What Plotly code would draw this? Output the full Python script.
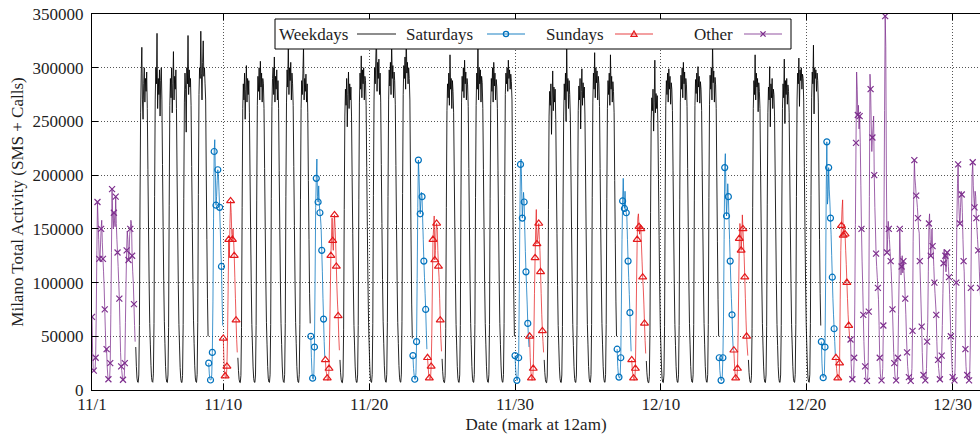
import pandas as pd
import plotly.graph_objects as go

# ---------------- data (hourly totals) ----------------
start_date = "2013-11-01"
tick_dates = ["2013-11-01", "2013-11-10", "2013-11-20", "2013-11-30",
              "2013-12-10", "2013-12-20", "2013-12-30"]
tick_labels = ["11/1", "11/10", "11/20", "11/30", "12/10", "12/20", "12/30"]
y_ticks = [0, 50000, 100000, 150000, 200000, 250000, 300000, 350000]

# W = weekday, S = Saturday, U = Sunday, O = other (holiday)
day_types = (["O", "O", "O"]
             + ["W", "W", "W", "W", "W", "S", "U"] * 7
             + ["O"] * 9)

nov01_03 = [
    [68000, 35000, 20000, 18000, 17000, 19000, 30000, 70000, 130000, 175000, 158000, 140000, 122000, 120000, 135000, 150000, 158000, 137000, 122000, 110000, 95000, 75000, 55000, 35000],
    [38000, 22000, 13000, 10000, 10000, 11000, 25000, 70000, 128000, 187000, 160000, 150000, 165000, 158000, 152000, 180000, 155000, 140000, 128000, 115000, 100000, 85000, 60000, 35000],
    [22000, 18000, 12000, 9500, 9300, 12000, 25000, 63000, 100000, 130000, 148000, 140000, 121000, 125000, 145000, 150000, 158000, 155000, 125000, 110000, 99000, 80000, 60000, 45000],
]
week_nov04 = [
    [40000, 22000, 11000, 7500, 7000, 14000, 60000, 175000, 258000, 295000, 319000, 270000, 252000, 285000, 300000, 268000, 290000, 278000, 296000, 262000, 205000, 150000, 100000, 62000],
    [42000, 23000, 11500, 7800, 7200, 15000, 62000, 180000, 270000, 300000, 285000, 332000, 262000, 290000, 275000, 298000, 255000, 288000, 300000, 270000, 210000, 152000, 102000, 64000],
    [43000, 22000, 11000, 7400, 7000, 14000, 58000, 172000, 265000, 290000, 272000, 300000, 258000, 285000, 315000, 270000, 292000, 280000, 298000, 262000, 200000, 148000, 98000, 61000],
    [41000, 21000, 10500, 7300, 6900, 13500, 61000, 178000, 268000, 295000, 280000, 240000, 300000, 285000, 330000, 275000, 298000, 282000, 290000, 265000, 208000, 155000, 103000, 65000],
    [43000, 22500, 11200, 7600, 7100, 14500, 63000, 182000, 275000, 300000, 290000, 334000, 295000, 270000, 305000, 325000, 292000, 300000, 285000, 270000, 200000, 140000, 85000, 50000],
    [25000, 15000, 10000, 9300, 9500, 14000, 35000, 82000, 160000, 222000, 233000, 200000, 172000, 180000, 195000, 205000, 200000, 185000, 170000, 150000, 130000, 115000, 85000, 60000],
    [48000, 30000, 18000, 13000, 11000, 12000, 22000, 50000, 95000, 140000, 123000, 155000, 176000, 165000, 145000, 140000, 150000, 140000, 125000, 105000, 85000, 65000, 47000, 35000],
]
week_nov11 = [
    [30000, 18000, 10000, 7200, 6900, 13500, 58000, 170000, 262000, 285000, 270000, 295000, 252000, 280000, 302000, 268000, 290000, 275000, 288000, 258000, 202000, 148000, 99000, 61000],
    [41000, 21500, 10800, 7400, 7000, 14000, 60000, 176000, 265000, 292000, 278000, 300000, 270000, 306000, 282000, 295000, 268000, 290000, 285000, 262000, 206000, 151000, 101000, 63000],
    [42000, 22000, 11000, 7500, 7100, 14200, 61000, 178000, 264000, 290000, 300000, 275000, 310000, 268000, 292000, 280000, 298000, 270000, 288000, 262000, 204000, 150000, 100000, 62000],
    [42500, 22300, 11100, 7600, 7000, 14500, 62000, 180000, 268000, 298000, 282000, 325000, 275000, 300000, 288000, 305000, 270000, 295000, 285000, 265000, 208000, 153000, 102000, 63000],
    [43000, 22000, 11000, 7400, 7000, 14300, 61000, 177000, 262000, 288000, 275000, 295000, 320000, 270000, 290000, 278000, 294000, 268000, 285000, 258000, 195000, 140000, 90000, 62000],
    [50000, 30000, 16000, 11000, 10000, 15000, 40000, 100000, 170000, 197000, 215000, 180000, 175000, 190000, 173000, 165000, 160000, 151000, 130000, 110000, 85000, 66000, 45000, 30000],
    [28000, 18000, 15000, 11000, 9000, 10000, 20000, 50000, 87500, 125000, 142000, 160000, 139000, 130000, 150000, 163000, 151000, 135000, 115000, 95000, 80000, 69000, 50000, 37000],
]
week_nov18 = [
    [28000, 16000, 9500, 7100, 6800, 13000, 56000, 168000, 255000, 280000, 265000, 290000, 245000, 275000, 296000, 262000, 285000, 270000, 282000, 255000, 198000, 146000, 97000, 60000],
    [41000, 21500, 10700, 7300, 7000, 14000, 60000, 177000, 268000, 295000, 280000, 311000, 272000, 298000, 285000, 300000, 270000, 292000, 288000, 265000, 207000, 152000, 101000, 63000],
    [42000, 22000, 11000, 7500, 7100, 14400, 62000, 181000, 270000, 300000, 285000, 310000, 330000, 278000, 305000, 290000, 308000, 275000, 295000, 268000, 210000, 155000, 103000, 64000],
    [43000, 22500, 11200, 7600, 7200, 14600, 63000, 180000, 270000, 298000, 283000, 305000, 275000, 325000, 290000, 302000, 272000, 296000, 288000, 266000, 209000, 154000, 102000, 63000],
    [43500, 22800, 11300, 7700, 7200, 14800, 64000, 183000, 275000, 302000, 290000, 310000, 280000, 332000, 295000, 305000, 285000, 300000, 290000, 270000, 200000, 135000, 80000, 48000],
    [32000, 20000, 14000, 10000, 10000, 16000, 45000, 104000, 170000, 214000, 200000, 182000, 164000, 175000, 184000, 180000, 160000, 140000, 120000, 105000, 90000, 75000, 55000, 38000],
    [30000, 22000, 14000, 11000, 10000, 11000, 22000, 48000, 95000, 140000, 150000, 162000, 121000, 130000, 148000, 155000, 150000, 130000, 115000, 105000, 85000, 65000, 48000, 36000],
]
week_nov25 = [
    [29000, 17000, 9800, 7200, 6900, 13200, 57000, 170000, 260000, 285000, 272000, 295000, 265000, 312000, 280000, 290000, 262000, 288000, 278000, 258000, 202000, 148000, 99000, 61000],
    [41000, 21800, 10900, 7400, 7000, 14100, 60000, 176000, 268000, 292000, 278000, 300000, 272000, 307000, 285000, 296000, 270000, 290000, 284000, 264000, 206000, 151000, 100000, 62000],
    [42000, 22000, 11000, 7500, 7100, 14300, 61000, 179000, 265000, 295000, 280000, 326000, 270000, 300000, 285000, 298000, 268000, 292000, 286000, 262000, 205000, 150000, 100000, 62000],
    [42000, 22100, 11000, 7500, 7000, 14200, 61000, 178000, 266000, 290000, 278000, 300000, 268000, 305000, 283000, 295000, 270000, 289000, 282000, 262000, 204000, 150000, 100000, 62000],
    [42500, 22400, 11100, 7600, 7100, 14500, 62000, 181000, 275000, 295000, 285000, 300000, 278000, 307000, 290000, 298000, 280000, 294000, 287000, 270000, 200000, 138000, 84000, 50000],
    [32000, 20000, 13000, 9000, 9000, 14000, 30000, 90000, 165000, 210000, 215000, 185000, 160000, 172000, 184000, 175000, 150000, 129000, 110000, 95000, 80000, 62000, 50000, 40000],
    [50000, 30000, 18000, 11000, 9000, 10000, 20000, 50000, 90000, 123000, 150000, 168000, 136000, 140000, 147000, 155000, 140000, 130000, 110000, 90000, 70000, 55000, 45000, 35000],
]
week_dec02 = [
    [28000, 16500, 9600, 7100, 6800, 13000, 56000, 168000, 255000, 278000, 265000, 285000, 238000, 270000, 297000, 260000, 282000, 268000, 280000, 252000, 198000, 146000, 97000, 60000],
    [41000, 21500, 10700, 7300, 7000, 14000, 59000, 174000, 255000, 285000, 270000, 295000, 250000, 322000, 278000, 290000, 262000, 288000, 275000, 255000, 203000, 149000, 99000, 61000],
    [41500, 21700, 10800, 7400, 7000, 14000, 60000, 175000, 260000, 283000, 270000, 290000, 243000, 278000, 299000, 265000, 286000, 272000, 282000, 256000, 202000, 148000, 99000, 61000],
    [42000, 22000, 11000, 7500, 7100, 14300, 61000, 179000, 268000, 295000, 280000, 314000, 272000, 300000, 286000, 297000, 270000, 292000, 285000, 264000, 206000, 151000, 101000, 62000],
    [42000, 22000, 11000, 7500, 7100, 14300, 61000, 178000, 262000, 288000, 275000, 295000, 265000, 312000, 280000, 292000, 268000, 287000, 278000, 258000, 195000, 136000, 82000, 50000],
    [38000, 22000, 14000, 12000, 11000, 13000, 30000, 80000, 140000, 176000, 197000, 175000, 169000, 185000, 170000, 165000, 161000, 140000, 120000, 105000, 89000, 72000, 52000, 36000],
    [28000, 18000, 14000, 11000, 9000, 10000, 20000, 55000, 100000, 140000, 160000, 164000, 152000, 145000, 154000, 150000, 135000, 120000, 105000, 95000, 80000, 62000, 46000, 34000],
]
week_dec09 = [
    [27000, 16000, 9500, 7000, 6800, 12800, 55000, 165000, 250000, 272000, 260000, 280000, 241000, 268000, 307000, 258000, 276000, 262000, 274000, 248000, 196000, 144000, 96000, 59000],
    [40500, 21300, 10600, 7300, 6900, 13900, 59000, 174000, 265000, 288000, 275000, 295000, 268000, 299000, 280000, 292000, 266000, 286000, 280000, 260000, 204000, 149000, 99000, 61000],
    [41500, 21800, 10900, 7400, 7000, 14100, 60000, 177000, 268000, 293000, 280000, 300000, 272000, 305000, 285000, 296000, 270000, 290000, 284000, 264000, 206000, 151000, 100000, 62000],
    [42000, 22000, 11000, 7500, 7100, 14200, 61000, 176000, 265000, 289000, 276000, 295000, 268000, 301000, 282000, 292000, 267000, 287000, 280000, 260000, 204000, 150000, 100000, 62000],
    [42000, 22000, 11000, 7500, 7100, 14300, 61000, 179000, 266000, 293000, 280000, 300000, 270000, 324000, 286000, 297000, 268000, 291000, 284000, 262000, 198000, 138000, 84000, 50000],
    [30000, 18000, 12000, 9000, 9000, 13000, 30000, 68000, 140000, 207000, 220000, 185000, 162000, 175000, 192000, 180000, 160000, 140000, 120000, 101000, 85000, 70000, 50000, 37000],
    [37000, 25000, 15000, 11000, 10000, 11000, 20000, 50000, 95000, 141000, 155000, 150000, 130000, 140000, 163000, 150000, 135000, 124000, 105000, 85000, 65000, 50000, 40000, 32000],
]
week_dec16 = [
    [28000, 16500, 9700, 7100, 6900, 13200, 57000, 170000, 262000, 288000, 275000, 312000, 270000, 295000, 282000, 290000, 259000, 286000, 278000, 262000, 204000, 150000, 100000, 62000],
    [41000, 21500, 10700, 7300, 7000, 14000, 59000, 173000, 258000, 282000, 270000, 301000, 245000, 285000, 272000, 290000, 262000, 280000, 275000, 255000, 202000, 148000, 99000, 61000],
    [41500, 21700, 10800, 7400, 7000, 14000, 60000, 175000, 262000, 285000, 272000, 308000, 248000, 288000, 275000, 290000, 266000, 284000, 278000, 258000, 203000, 149000, 99000, 61000],
    [42000, 22000, 11000, 7500, 7100, 14300, 61000, 180000, 270000, 295000, 285000, 309000, 264000, 298000, 288000, 300000, 280000, 294000, 290000, 268000, 207000, 152000, 101000, 63000],
    [42500, 22300, 11100, 7600, 7100, 14500, 62000, 181000, 272000, 296000, 285000, 321000, 257000, 300000, 290000, 298000, 278000, 295000, 288000, 268000, 200000, 140000, 90000, 60000],
    [45000, 25000, 14000, 11500, 12000, 16000, 40000, 100000, 187000, 231000, 173000, 180000, 207000, 187000, 175000, 160000, 145000, 125000, 105000, 85000, 70000, 57000, 45000, 32000],
    [30000, 20000, 14000, 11000, 9500, 11000, 25000, 84500, 130000, 153000, 168000, 177000, 144000, 150000, 154000, 145000, 130000, 117000, 100000, 85000, 70000, 60000, 53000, 45000],
]
dec23_31 = [
    [47000, 25000, 12000, 10000, 9000, 12000, 30000, 80000, 154000, 230000, 296000, 280000, 256000, 265000, 243000, 255000, 230000, 190000, 150000, 120000, 98000, 70000, 45000, 28000],
    [22000, 12000, 9000, 8500, 9000, 20000, 73000, 180000, 294000, 280000, 250000, 222000, 235000, 245000, 255000, 200000, 170000, 150000, 127000, 115000, 105000, 95000, 84000, 60000],
    [30000, 15000, 10000, 9000, 10000, 20000, 60000, 160000, 260000, 348000, 320000, 200000, 128000, 140000, 157000, 150000, 140000, 129000, 120000, 110000, 95000, 75000, 55000, 35000],
    [25000, 14000, 10000, 9000, 9000, 12000, 30000, 70000, 107000, 150000, 125000, 107000, 115000, 125000, 109000, 120000, 110000, 100000, 85000, 70000, 50000, 35000, 22000, 15000],
    [12000, 9000, 9000, 8500, 10000, 20000, 55000, 138000, 180000, 214000, 197000, 190000, 181000, 177000, 170000, 160000, 150000, 146000, 120000, 100000, 80000, 59000, 35000, 18000],
    [14000, 11000, 9000, 9000, 10000, 20000, 45000, 63000, 110000, 155000, 164000, 140000, 125000, 135000, 150000, 134000, 130000, 115000, 100000, 90000, 80000, 70000, 45000, 28000],
    [28000, 20000, 14000, 10000, 9000, 9000, 32000, 60000, 90000, 118000, 131000, 122000, 125000, 110000, 120000, 128000, 126000, 115000, 105000, 89000, 70000, 50000, 35000, 22000],
    [12000, 9000, 8500, 9000, 20000, 50000, 100000, 160000, 192000, 210000, 175000, 160000, 155000, 170000, 185000, 182000, 165000, 140000, 120000, 110000, 80000, 38000, 22000, 14000],
    [14000, 10000, 9000, 9000, 12000, 40000, 95000, 156000, 200000, 212000, 190000, 178000, 170000, 185000, 180000, 160000, 150000, 140000, 130000, 127000, 110000, 95000, 85000, 90000],
]

# ---------------- assemble ----------------
all_days = (nov01_03 + week_nov04 + week_nov11 + week_nov18 + week_nov25
            + week_dec02 + week_dec09 + week_dec16 + dec23_31)
hours = pd.date_range(start_date, periods=len(all_days) * 24, freq="h")


def series(cat):
    xs, ys, mx, my = [], [], [], []
    prev = False
    for d, (t, vals) in enumerate(zip(day_types, all_days)):
        if t == cat:
            for h, v in enumerate(vals):
                ts = hours[d * 24 + h]
                xs.append(ts)
                ys.append(v)
                if h % 3 == 0:
                    mx.append(ts)
                    my.append(v)
            prev = True
        elif prev:
            xs.append(None)
            ys.append(None)
            prev = False
    return xs, ys, mx, my


styles = {
    "W": dict(name="Weekdays", line="rgba(0,0,0,0.85)", legend_line="rgba(0,0,0,0.6)",
              mark=None, symbol=None),
    "S": dict(name="Saturdays", line="rgba(0,114,189,0.75)", legend_line="rgba(0,114,189,0.6)",
              mark="#0072BD", symbol="circle-open"),
    "U": dict(name="Sundays", line="rgba(228,26,28,0.72)", legend_line="rgba(228,26,28,0.55)",
              mark="#E41A1C", symbol="triangle-up-open"),
    "O": dict(name="Other", line="rgba(126,47,142,0.75)", legend_line="rgba(126,47,142,0.55)",
              mark="#7E2F8E", symbol="x-thin"),
}

fig = go.Figure()
for cat in ["W", "S", "U", "O"]:
    st = styles[cat]
    xs, ys, mx, my = series(cat)
    fig.add_trace(go.Scatter(x=xs, y=ys, mode="lines", name=st["name"],
                             line=dict(color=st["line"], width=1, simplify=False),
                             connectgaps=False, showlegend=False, hoverinfo="skip"))
    if st["mark"]:
        if st["symbol"] == "x-thin":
            mk = dict(symbol="x-thin", size=6, color=st["mark"],
                      line=dict(color=st["mark"], width=1.2))
        else:
            mk = dict(symbol=st["symbol"], size=6 if cat == "S" else 7,
                      color=st["mark"], line=dict(color=st["mark"], width=1.2))
        fig.add_trace(go.Scatter(x=mx, y=my, mode="markers", name=st["name"],
                                 marker=mk, showlegend=False, hoverinfo="skip"))

# ---------------- layout ----------------
W, H = 980, 437
PL, PR, PT, PB = 92, 980, 14, 390
FONT = "'Liberation Serif', Tinos, 'Times New Roman', Times, 'DejaVu Serif', serif"
TXT = "#1e1e1e"


def px_x(p):
    return (p - PL) / (PR - PL)


def px_y(p):
    return (PB - p) / (PB - PT)


shapes = []
annotations = []
# legend box
shapes.append(dict(type="rect", xref="paper", yref="paper",
                   x0=px_x(275), x1=px_x(791), y0=px_y(49), y1=px_y(19),
                   fillcolor="white", line=dict(color="black", width=1), layer="above"))
legend_items = [
    ("W", 277, 357, 396),
    ("S", 404, 487, 525),
    ("U", 544, 615, 653),
    ("O", 692, 744, 782),
]
LY = 34
for cat, tx, s0, s1 in legend_items:
    st = styles[cat]
    annotations.append(dict(text=st["name"], xref="paper", yref="paper",
                            x=px_x(tx), y=px_y(LY), xanchor="left", yanchor="middle",
                            showarrow=False, font=dict(family=FONT, size=17, color=TXT)))
    shapes.append(dict(type="line", xref="paper", yref="paper",
                       x0=px_x(s0), x1=px_x(s1), y0=px_y(LY), y1=px_y(LY),
                       line=dict(color=st["legend_line"], width=1.5), layer="above"))
    cx, cy = px_x((s0 + s1) / 2), px_y(LY)
    common = dict(xref="paper", yref="paper", xsizemode="pixel", ysizemode="pixel",
                  xanchor=cx, yanchor=cy, layer="above")
    if cat == "S":
        shapes.append(dict(type="circle", x0=-2.6, x1=2.6, y0=-2.6, y1=2.6,
                           line=dict(color=st["mark"], width=1.3), **common))
    elif cat == "U":
        shapes.append(dict(type="path", path="M-3,-2.3 L3,-2.3 L0,3 Z",
                           line=dict(color=st["mark"], width=1.3), **common))
    elif cat == "O":
        shapes.append(dict(type="path", path="M-2.6,-2.6 L2.6,2.6 M-2.6,2.6 L2.6,-2.6",
                           line=dict(color=st["mark"], width=1.3), **common))

fig.update_layout(
    width=W, height=H,
    margin=dict(l=PL, r=W - PR, t=PT, b=H - PB, pad=0),
    paper_bgcolor="white", plot_bgcolor="white",
    font=dict(family=FONT, size=17, color=TXT),
    showlegend=False,
    shapes=shapes, annotations=annotations,
    xaxis=dict(
        type="date",
        range=["2013-11-01 00:00", "2013-12-31 21:00"],
        tickmode="array", tickvals=tick_dates, ticktext=tick_labels,
        ticks="inside", ticklen=6, tickwidth=1, tickcolor="black",
        showline=True, linecolor="black", linewidth=1, mirror="ticks",
        showgrid=True, gridcolor="#555555", gridwidth=1, griddash="1px,2px",
        zeroline=False, automargin=False, ticklabelstandoff=-1,
        tickfont=dict(family=FONT, size=17, color=TXT),
        title=dict(text="Date (mark at 12am)", standoff=4,
                   font=dict(family=FONT, size=17, color=TXT)),
    ),
    yaxis=dict(
        range=[0, 350000],
        tickmode="array", tickvals=y_ticks, tickformat="d",
        ticks="inside", ticklen=6, tickwidth=1, tickcolor="black",
        showline=True, linecolor="black", linewidth=1, mirror=False,
        showgrid=True, gridcolor="#555555", gridwidth=1, griddash="1px,2px",
        zeroline=False, automargin=False, ticklabelstandoff=4,
        tickfont=dict(family=FONT, size=17, color=TXT),
        title=dict(text="Milano Total Activity (SMS + Calls)", standoff=4,
                   font=dict(family=FONT, size=17, color=TXT)),
    ),
)

fig.write_html("out.html",
               config={"displayModeBar": False},
               post_script="document.body.style.margin='0px';"
                           "document.body.style.overflow='hidden';")
